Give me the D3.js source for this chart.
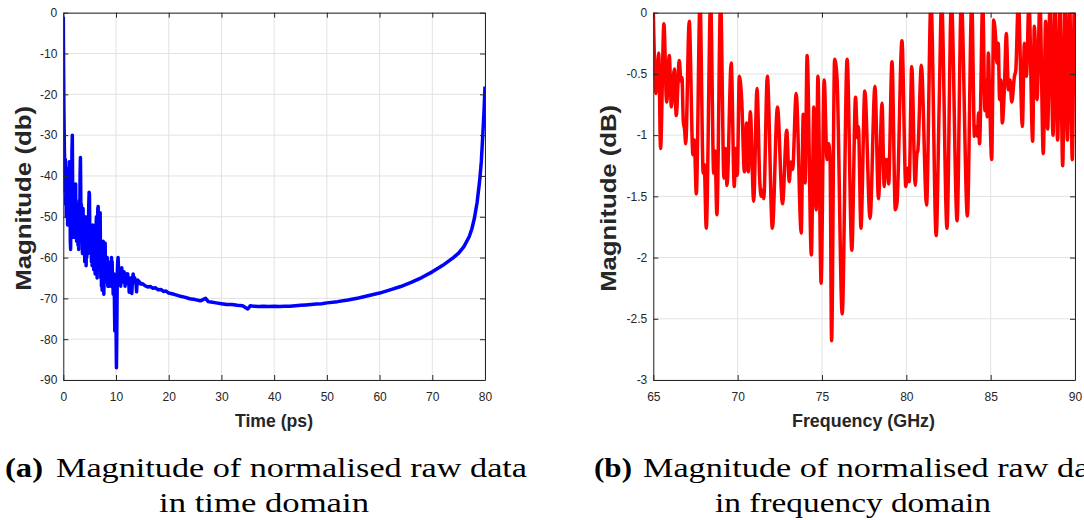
<!DOCTYPE html>
<html><head><meta charset="utf-8">
<script src="https://cdn.jsdelivr.net/npm/d3@7"></script>
<style>body{margin:0;background:#fff} svg{display:block}</style>
</head><body>
<svg id="c" width="1084" height="520"></svg>
<script>
// ---------- DATA ----------
const timePs = [0,0.05,0.12,0.2,0.28,0.34,0.40,0.46,0.52,0.58,0.64,0.70,0.76,0.82,0.88,0.95,1.02,1.08,1.14,1.20,1.27,1.33,1.39,1.45,1.52,1.58,1.64,1.71,1.77,1.83,1.90,1.96,2.02,2.09,2.15,2.22,2.28,2.34,2.40,2.46,2.53,2.60,2.66,2.72,2.79,2.85,2.92,2.98,3.05,3.12,3.18,3.25,3.31,3.38,3.44,3.50,3.56,3.63,3.69,3.75,3.82,3.88,3.95,4.01,4.07,4.14,4.20,4.26,4.33,4.39,4.45,4.52,4.58,4.64,4.71,4.77,4.83,4.90,4.96,5.02,5.09,5.15,5.21,5.28,5.34,5.40,5.47,5.53,5.59,5.66,5.72,5.78,5.85,5.91,5.98,6.04,6.10,6.17,6.23,6.29,6.36,6.42,6.48,6.55,6.61,6.67,6.74,6.80,6.86,6.93,6.99,7.05,7.12,7.18,7.24,7.31,7.37,7.43,7.50,7.56,7.62,7.69,7.75,7.81,7.88,7.94,8.00,8.07,8.13,8.19,8.26,8.32,8.38,8.45,8.51,8.57,8.64,8.70,8.76,8.83,8.89,8.95,9.02,9.08,9.14,9.21,9.27,9.33,9.40,9.46,9.52,9.59,9.65,9.71,9.77,9.83,9.90,9.96,10.02,10.08,10.14,10.20,10.27,10.33,10.39,10.46,10.52,10.58,10.65,10.71,10.77,10.84,10.90,10.96,11.03,11.09,11.15,11.22,11.28,11.34,11.41,11.47,11.53,11.60,11.66,11.72,11.79,11.85,11.91,11.98,12.10,12.22,12.30,12.40,12.50,12.58,12.70,12.80,12.90,13.00,13.10,13.25,13.40,13.55,13.65,13.80,13.90,14.00,14.15,14.30,14.50,14.70,15.00,15.50,16,16.5,17,17.5,18,18.5,19,19.5,20,21,22,23,24,25,26,27,27.5,28,29,30,31,32,33,34,35,35.5,36,37,38,39,40,41,42,43,44,45,46,47,48,49,50,52,54,56,58,60,62,64,66,68,70,72,74,75,76,77,77.5,78,78.5,79,79.3,79.6,79.8,80];
const timeDb = [-1,-12,-24,-33,-38,-44,-36,-47,-40,-50,-41,-49,-44,-52,-42,-46,-38,-50,-36.5,-48,-45,-56,-58,-47,-40,-52,-34,-30,-42,-50,-46,-55,-48,-54,-44,-51,-45,-42,-53,-48,-56,-47,-53,-49,-57,-48,-58,-52,-46,-55,-40,-35.5,-44,-52,-47,-56,-50,-59,-52,-48,-57,-50,-59,-53,-61,-50,-55,-52,-62,-54,-60,-51,-57,-50,-59,-53,-47,-44,-44.5,-52,-57,-53,-59,-54,-61,-55,-62,-56,-52,-60,-55,-63,-56,-61,-55,-64,-57,-63,-52,-50,-58,-65,-53,-48,-47.5,-56,-61,-55,-62,-50,-49,-58,-65,-60,-67,-61,-68,-60,-58,-56,-63,-69,-64,-60,-57,-56.5,-63,-60,-65,-61,-66,-60,-63,-67,-61,-64,-62,-67,-63,-65,-62,-66,-62,-67,-60,-63,-61,-66,-64,-69,-65,-67,-64,-72,-78,-70,-66,-70,-79,-87,-80,-70,-63,-61,-60,-62,-65,-63,-66,-64,-66,-63,-67,-64,-65,-62.5,-64,-66,-64,-66,-64,-65,-63.5,-65,-64,-67,-65,-66.5,-64,-65.5,-64.5,-64,-66,-65,-68.5,-66,-65,-66,-65,-68.8,-66,-64,-65.5,-65,-66,-66.5,-68.4,-66,-65.5,-66.2,-66,-66.5,-66.4,-66.9,-67.2,-67.1,-67.5,-67.4,-67.9,-67.8,-68.3,-68.2,-68.7,-69.0,-69.4,-69.7,-70.1,-70.3,-70.6,-70.0,-70.8,-70.9,-71.1,-71.3,-71.5,-71.5,-71.7,-71.8,-72.6,-71.8,-71.9,-72.0,-71.9,-72.0,-71.9,-72.0,-71.9,-71.9,-71.8,-71.7,-71.6,-71.5,-71.4,-71.3,-71.1,-70.8,-70.4,-69.9,-69.3,-68.7,-67.9,-67.1,-66.1,-64.9,-63.5,-61.9,-60.0,-58.9,-57.3,-54.9,-53.0,-50.3,-46.5,-41.0,-36.5,-29.5,-24.5,-18.1];

const freqGHz = [65.00,65.16,65.32,65.43,65.63,65.79,65.95,66.07,66.25,66.36,66.54,66.64,66.70,66.78,66.86,66.92,67.13,67.35,67.43,67.55,67.77,67.96,68.02,68.14,68.40,68.58,68.66,68.77,68.99,69.19,69.27,69.37,69.62,69.80,69.88,69.98,70.10,70.24,70.40,70.53,70.63,70.75,70.95,71.15,71.31,71.40,71.48,71.55,71.76,72.06,72.36,72.66,72.91,73.06,73.16,73.26,73.47,73.77,73.89,74.00,74.12,74.37,74.52,74.65,74.76,74.95,75.13,75.30,75.40,75.48,75.57,75.75,75.89,76.20,76.49,76.77,76.99,77.10,77.16,77.31,77.54,77.85,78.14,78.35,78.56,78.69,78.75,78.82,78.87,78.95,79.15,79.35,79.45,79.74,79.97,80.08,80.17,80.32,80.53,80.63,80.68,80.89,81.20,81.46,81.77,81.95,82.09,82.41,82.67,83.01,83.26,83.62,83.88,84.04,84.12,84.22,84.28,84.34,84.53,84.66,84.74,84.80,84.86,84.94,85.06,85.18,85.30,85.37,85.45,85.53,85.61,85.69,85.81,85.93,86.05,86.15,86.25,86.41,86.49,86.64,86.88,87.00,87.12,87.27,87.49,87.59,87.75,87.92,88.12,88.26,88.38,88.52,88.70,88.81,88.97,89.11,89.27,89.41,89.55,89.68,89.84,89.96,90.00];
const freqDb = [0.02,-0.66,-0.33,-1.11,-0.09,-0.73,-0.35,-0.77,-0.46,-0.84,-0.39,-0.56,-0.53,-0.89,-0.96,-1.07,-0.07,-1.16,-1.04,-1.48,0.1,-1.31,-1.24,-1.76,0.1,-1.31,-1.13,-1.65,0.1,-1.35,-1.11,-1.41,-0.41,-1.42,-1.11,-1.33,-0.52,-0.71,-1.30,-0.90,-1.30,-0.81,-1.54,-0.62,-1.37,-1.50,-1.45,-1.52,-0.52,-1.76,-0.77,-1.56,-0.96,-1.38,-1.22,-1.28,-0.66,-1.80,-0.83,-1.39,-0.35,-1.98,-0.77,-1.61,-0.52,-2.21,-0.55,-1.20,-1.07,-1.20,-2.68,-0.38,-0.53,-2.46,-0.38,-1.94,-0.69,-1.02,-0.93,-1.76,-0.64,-1.68,-0.60,-1.52,-0.74,-1.42,-1.20,-1.25,-1.20,-1.40,-0.40,-1.61,-1.55,-0.23,-1.42,-1.27,-1.38,-0.44,-1.41,-1.15,-1.13,-0.43,-1.57,0.1,-1.82,-0.74,0.1,-1.76,0.1,-1.70,0.1,-1.66,0.1,-1.01,-0.93,-1.01,-0.82,-1.07,0.1,-0.80,-0.55,-0.85,-0.33,-0.70,-1.20,-0.06,-0.22,-0.41,-0.25,-0.71,-0.55,-0.90,-0.63,-0.17,-0.63,-0.55,-0.73,-0.52,-0.47,0.1,-0.93,-0.25,-0.52,0.1,-1.05,-0.11,-0.71,0.1,-1.15,-0.07,-0.95,0.1,-1.00,0.1,-1.04,0.1,-1.25,0.1,-1.04,0.1,-1.20,0.05,-0.08];

const timeTicksX = [0,10,20,30,40,50,60,70,80];
const timeTickLabelsX = ["0","10","20","30","40","50","60","70","80"];
const timeTicksY = [0,-10,-20,-30,-40,-50,-60,-70,-80,-90];
const timeTickLabelsY = ["0","-10","-20","-30","-40","-50","-60","-70","-80","-90"];
const freqTicksX = [65,70,75,80,85,90];
const freqTickLabelsX = ["65","70","75","80","85","90"];
const freqTicksY = [0,-0.5,-1,-1.5,-2,-2.5,-3];
const freqTickLabelsY = ["0","-0.5","-1","-1.5","-2","-2.5","-3"];

const captionA = ["(a)", "Magnitude of normalised raw data", "in time domain"];
const captionB = ["(b)", "Magnitude of normalised raw data", "in frequency domain"];

// ---------- DRAW ----------
const svg = d3.select("#c");
const AX = "#262626";

function panel(cfg) {
  const x = d3.scaleLinear().domain(cfg.xDomain).range([cfg.x0, cfg.x1]);
  const y = d3.scaleLinear().domain(cfg.yDomain).range([cfg.y1, cfg.y0]);
  const g = svg.append("g");

  g.append("g").selectAll("line").data(cfg.xTicks).join("line")
    .attr("x1", d => x(d)).attr("x2", d => x(d))
    .attr("y1", cfg.y0).attr("y2", cfg.y1)
    .attr("stroke", "#e2e2e2").attr("stroke-width", 1);
  g.append("g").selectAll("line").data(cfg.yTicks).join("line")
    .attr("y1", d => y(d)).attr("y2", d => y(d))
    .attr("x1", cfg.x0).attr("x2", cfg.x1)
    .attr("stroke", "#e2e2e2").attr("stroke-width", 1);

  const clipId = "clip" + cfg.id;
  svg.append("clipPath").attr("id", clipId).append("rect")
    .attr("x", cfg.x0).attr("y", cfg.y0)
    .attr("width", cfg.x1 - cfg.x0).attr("height", cfg.y1 - cfg.y0);
  const line = d3.line().x(d => x(d[0])).y(d => y(d[1])).curve(cfg.curve);
  g.append("path").datum(d3.zip(cfg.xs, cfg.ys))
    .attr("clip-path", `url(#${clipId})`)
    .attr("fill", "none").attr("stroke", cfg.color)
    .attr("stroke-width", cfg.sw).attr("stroke-linejoin", "round")
    .attr("d", line);

  const fx = d => cfg.xLabels[cfg.xTicks.indexOf(d)];
  const fy = d => cfg.yLabels[cfg.yTicks.indexOf(d)];
  const style = sel => {
    sel.select(".domain").attr("stroke", AX).attr("stroke-width", 1);
    sel.selectAll(".tick line").attr("stroke", AX);
    sel.selectAll("text").attr("fill", AX).attr("font-family", "'Liberation Sans', Arial, sans-serif").attr("font-size", 12);
  };
  g.append("g").attr("transform", `translate(0,${cfg.y1})`)
    .call(d3.axisBottom(x).tickValues(cfg.xTicks).tickFormat(fx).tickSize(-5).tickSizeOuter(0).tickPadding(12.5)).call(style);
  g.append("g").attr("transform", `translate(0,${cfg.y0})`)
    .call(d3.axisTop(x).tickValues(cfg.xTicks).tickFormat("").tickSize(-5).tickSizeOuter(0)).call(style);
  g.append("g").attr("transform", `translate(${cfg.x0},0)`)
    .call(d3.axisLeft(y).tickValues(cfg.yTicks).tickFormat(fy).tickSize(-5).tickSizeOuter(0).tickPadding(6)).call(style);
  g.append("g").attr("transform", `translate(${cfg.x1},0)`)
    .call(d3.axisRight(y).tickValues(cfg.yTicks).tickFormat("").tickSize(-5).tickSizeOuter(0)).call(style);

  g.append("text").text(cfg.xTitle)
    .attr("x", cfg.xTitleX).attr("y", 427).attr("text-anchor", "middle")
    .attr("font-family", "'Liberation Sans', Arial, sans-serif").attr("font-weight", "bold")
    .attr("font-size", 18).attr("fill", AX)
    .attr("textLength", cfg.xTitleLen).attr("lengthAdjust", "spacingAndGlyphs");
  g.append("text").text(cfg.yTitle)
    .attr("transform", `translate(${cfg.yTitleX},${(cfg.y0 + cfg.y1) / 2 + 2}) rotate(-90)`)
    .attr("text-anchor", "middle").attr("dy", "0.36em")
    .attr("font-family", "'Liberation Sans', Arial, sans-serif").attr("font-weight", "bold")
    .attr("font-size", 22).attr("fill", AX)
    .attr("textLength", cfg.yTitleLen).attr("lengthAdjust", "spacingAndGlyphs");
}

panel({
  id: "a", x0: 63.3, x1: 485, y0: 12.7, y1: 380,
  xDomain: [0, 80], yDomain: [-90, 0],
  xTicks: timeTicksX, xLabels: timeTickLabelsX, yTicks: timeTicksY, yLabels: timeTickLabelsY,
  xs: timePs, ys: timeDb, color: "#0000ff", sw: 3.5, curve: d3.curveLinear,
  xTitle: "Time (ps)", xTitleX: 274, xTitleLen: 78,
  yTitle: "Magnitude (db)", yTitleX: 23, yTitleLen: 185
});
panel({
  id: "b", x0: 653.3, x1: 1075, y0: 12.7, y1: 380,
  xDomain: [65, 90], yDomain: [-3, 0],
  xTicks: freqTicksX, xLabels: freqTickLabelsX, yTicks: freqTicksY, yLabels: freqTickLabelsY,
  xs: freqGHz, ys: freqDb, color: "#ff0000", sw: 3.5, curve: d3.curveMonotoneX,
  xTitle: "Frequency (GHz)", xTitleX: 863.5, xTitleLen: 143,
  yTitle: "Magnitude (dB)", yTitleX: 608, yTitleLen: 187
});

function caption(c, xa, xm, lenM, cx2, len2) {
  const serif = "'Liberation Serif', 'Times New Roman', serif";
  svg.append("text").text(c[0]).attr("x", xa).attr("y", 477)
    .attr("font-family", serif).attr("font-weight", "bold").attr("font-size", 27).attr("fill", "#000")
    .attr("textLength", 38).attr("lengthAdjust", "spacingAndGlyphs");
  svg.append("text").text(c[1]).attr("x", xm).attr("y", 477)
    .attr("font-family", serif).attr("font-size", 27).attr("fill", "#000")
    .attr("textLength", lenM).attr("lengthAdjust", "spacingAndGlyphs");
  svg.append("text").text(c[2]).attr("x", cx2 - len2 / 2).attr("y", 512)
    .attr("font-family", serif).attr("font-size", 27).attr("fill", "#000")
    .attr("textLength", len2).attr("lengthAdjust", "spacingAndGlyphs");
}
caption(captionA, 5, 56, 471, 264, 210);
caption(captionB, 594, 643, 471, 853, 276);
</script>
</body></html>
